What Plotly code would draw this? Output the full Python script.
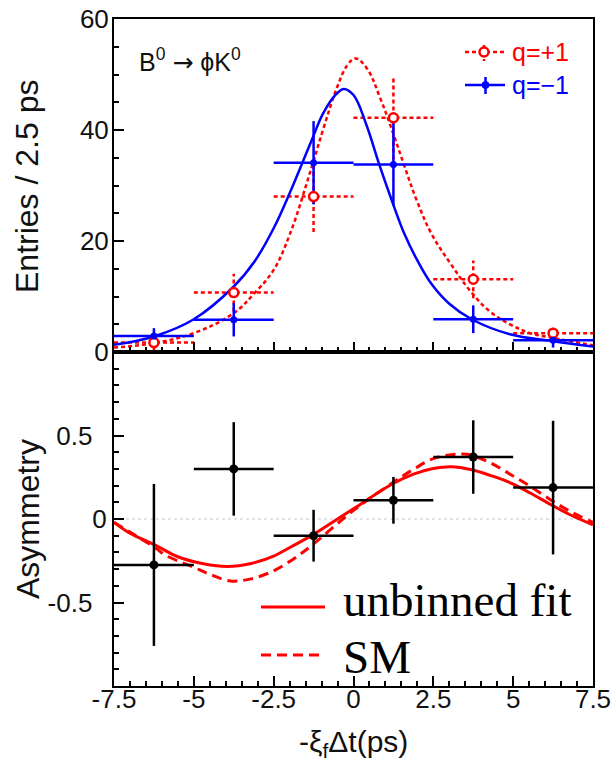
import plotly.graph_objects as go

# ---------------- data ----------------
bin_centers = [-6.25, -3.75, -1.25, 1.25, 3.75, 6.25]
bin_half_width = [1.25, 1.25, 1.25, 1.25, 1.25, 1.25]

qp_counts = [1.7, 10.7, 28.0, 42.2, 13.1, 3.4]      # q=+1 (red, open)
qp_errors = [1.4, 3.4, 6.4, 7.5, 3.4, 1.0]
qm_counts = [2.9, 5.8, 34.1, 33.8, 5.9, 2.1]        # q=-1 (blue, filled)
qm_errors = [1.4, 3.0, 7.5, 7.4, 2.5, 1.3]

qm_curve_x = [-7.5, -6.25, -5.0, -3.75, -3.1, -2.5, -2.0, -1.3, -0.95, -0.55, -0.3, 0.0,
              0.4, 0.8, 1.2, 1.6, 2.0, 2.45, 3.0, 3.7, 4.9, 6.2, 7.5]
qm_curve_y = [1.3, 2.8, 5.9, 11.8, 16.3, 22.3, 28.6, 38.3, 43.0, 46.4, 47.4, 46.3,
              41.0, 33.9, 27.3, 21.2, 16.5, 12.2, 8.7, 5.9, 3.2, 2.0, 1.0]

qp_curve_x = [-7.5, -6.25, -5.0, -3.75, -3.1, -2.5, -2.0, -1.3, -0.94, -0.52, -0.2, 0.06,
              0.42, 0.84, 1.26, 1.57, 1.98, 2.45, 3.03, 3.67, 4.27, 4.93, 5.53, 6.18, 7.5]
qp_curve_y = [0.8, 1.6, 3.4, 7.0, 10.6, 14.8, 21.1, 33.5, 40.3, 47.6, 51.6, 52.9,
              51.1, 45.7, 39.1, 33.9, 27.3, 21.2, 16.0, 10.9, 7.3, 4.9, 3.4, 2.6, 1.2]

asym_values = [-0.275, 0.30, -0.10, 0.112, 0.371, 0.188]
asym_errors = [0.485, 0.28, 0.155, 0.14, 0.22, 0.40]

fit_x = [-7.5, -7.0, -6.25, -5.5, -4.7, -3.95, -3.2, -2.5, -1.95, -1.25, -0.5, 0.2,
         1.2, 1.9, 2.5, 3.05, 3.7, 4.3, 4.95, 5.55, 6.2, 6.8, 7.5]
fit_y = [-0.02, -0.085, -0.152, -0.226, -0.268, -0.284, -0.266, -0.222, -0.166, -0.092, 0.0, 0.086,
         0.208, 0.27, 0.302, 0.313, 0.295, 0.26, 0.214, 0.154, 0.084, 0.024, -0.035]

sm_x = [-7.5, -6.9, -6.15, -5.9, -5.05, -4.45, -3.85, -3.25, -2.55, -1.9, -1.3, -0.05,
        1.2, 1.9, 2.5, 3.05, 3.4, 3.67, 4.3, 4.93, 5.55, 6.18, 6.8, 7.5]
sm_y = [-0.02, -0.09, -0.18, -0.216, -0.285, -0.335, -0.371, -0.36, -0.315, -0.242, -0.157, 0.044,
        0.214, 0.30, 0.362, 0.385, 0.389, 0.383, 0.335, 0.265, 0.194, 0.114, 0.044, -0.02]

x_range = [-7.5, 7.5]
x_ticks = [-7.5, -5, -2.5, 0, 2.5, 5, 7.5]
x_ticktext = ["-7.5", "-5", "-2.5", "0", "2.5", "5", "7.5"]
top_ticks = [0, 20, 40, 60]
bot_ticks = [-0.5, 0, 0.5]
bot_ticktext = ["-0.5\u00a0\u00a0", "0", "0.5\u00a0\u00a0"]

# ---------------- helpers ----------------
RED = "#ff0000"
BLUE = "#0000ff"
DOT = "4px,3px"
SANS = "Liberation Sans, Arial, sans-serif"
SERIF = "Liberation Serif, Times New Roman, serif"


def hsegs(xc, xh, y):
    xs, ys = [], []
    for a, h, b in zip(xc, xh, y):
        xs += [a - h, a + h, None]
        ys += [b, b, None]
    return xs, ys


def vsegs(xc, y, e):
    xs, ys = [], []
    for a, b, d in zip(xc, y, e):
        xs += [a, a, None]
        ys += [b - d, b + d, None]
    return xs, ys


fig = go.Figure()

# ---- upper panel ----
hx, hy = hsegs(bin_centers, bin_half_width, qp_counts)
vx, vy = vsegs(bin_centers, qp_counts, qp_errors)
fig.add_trace(go.Scatter(x=hx, y=hy, mode="lines", line=dict(color=RED, width=2.5, dash=DOT),
                         xaxis="x2", yaxis="y2", showlegend=False, hoverinfo="skip"))
fig.add_trace(go.Scatter(x=vx, y=vy, mode="lines", line=dict(color=RED, width=2.5, dash=DOT),
                         xaxis="x2", yaxis="y2", showlegend=False, hoverinfo="skip"))
fig.add_trace(go.Scatter(x=qp_curve_x, y=qp_curve_y, mode="lines",
                         line=dict(color=RED, width=2.5, dash=DOT, shape="spline", smoothing=1.1),
                         xaxis="x2", yaxis="y2", showlegend=False))

hx, hy = hsegs(bin_centers, bin_half_width, qm_counts)
vx, vy = vsegs(bin_centers, qm_counts, qm_errors)
fig.add_trace(go.Scatter(x=hx, y=hy, mode="lines", line=dict(color=BLUE, width=2.5),
                         xaxis="x2", yaxis="y2", showlegend=False, hoverinfo="skip"))
fig.add_trace(go.Scatter(x=vx, y=vy, mode="lines", line=dict(color=BLUE, width=2.5),
                         xaxis="x2", yaxis="y2", showlegend=False, hoverinfo="skip"))
fig.add_trace(go.Scatter(x=qm_curve_x, y=qm_curve_y, mode="lines",
                         line=dict(color=BLUE, width=2.5, shape="spline", smoothing=1.1),
                         xaxis="x2", yaxis="y2", showlegend=False))

fig.add_trace(go.Scatter(x=bin_centers, y=qp_counts, mode="markers",
                         marker=dict(symbol="circle", size=9, color="white",
                                     line=dict(color=RED, width=2.5)),
                         xaxis="x2", yaxis="y2", showlegend=False))
fig.add_trace(go.Scatter(x=bin_centers, y=qm_counts, mode="markers",
                         marker=dict(symbol="circle", size=7, color=BLUE),
                         xaxis="x2", yaxis="y2", showlegend=False))

# ---- lower panel ----
fig.add_trace(go.Scatter(x=x_range, y=[0, 0], mode="lines",
                         line=dict(color="#c8c8c8", width=1, dash="3px,3px"),
                         xaxis="x", yaxis="y", showlegend=False, hoverinfo="skip"))
fig.add_trace(go.Scatter(x=fit_x, y=fit_y, mode="lines",
                         line=dict(color=RED, width=3, shape="spline", smoothing=1.0),
                         xaxis="x", yaxis="y", showlegend=False))
fig.add_trace(go.Scatter(x=sm_x, y=sm_y, mode="lines",
                         line=dict(color=RED, width=3, dash="10px,6px", shape="spline", smoothing=1.0),
                         xaxis="x", yaxis="y", showlegend=False))
hx, hy = hsegs(bin_centers, bin_half_width, asym_values)
vx, vy = vsegs(bin_centers, asym_values, asym_errors)
fig.add_trace(go.Scatter(x=hx, y=hy, mode="lines", line=dict(color="black", width=2.5),
                         xaxis="x", yaxis="y", showlegend=False, hoverinfo="skip"))
fig.add_trace(go.Scatter(x=vx, y=vy, mode="lines", line=dict(color="black", width=2.5),
                         xaxis="x", yaxis="y", showlegend=False, hoverinfo="skip"))
fig.add_trace(go.Scatter(x=bin_centers, y=asym_values, mode="markers",
                         marker=dict(symbol="circle", size=9, color="black"),
                         xaxis="x", yaxis="y", showlegend=False))

# ---------------- layout ----------------
L, R, T, B = 114, 593, 19, 686
W, H = R - L, B - T


def px(xp):
    return (xp - L) / W


def py(yp):
    return (B - yp) / H


split = py(352)

axis_common = dict(showline=True, linecolor="black", linewidth=2, mirror=True,
                   ticks="inside", ticklen=10, tickwidth=2, tickcolor="black",
                   showgrid=False, zeroline=False, automargin=False,
                   tickfont=dict(family=SANS, size=26, color="#111111"))

fig.update_layout(
    width=612, height=765,
    margin=dict(l=L, r=612 - R, t=T, b=765 - B, autoexpand=False),
    paper_bgcolor="white", plot_bgcolor="white",
    showlegend=False,
    xaxis=dict(axis_common, range=x_range, tickvals=x_ticks, ticktext=x_ticktext,
               anchor="y", domain=[0, 1], ticklabelstandoff=-11,
               minor=dict(dtick=0.5, tick0=0, ticks="inside", ticklen=5, tickwidth=2, tickcolor="black")),
    yaxis=dict(axis_common, range=[-1, 1], tickvals=bot_ticks, ticktext=bot_ticktext,
               anchor="x", domain=[0, split], ticklabelstandoff=0,
               minor=dict(dtick=0.1, tick0=0, ticks="inside", ticklen=5, tickwidth=2, tickcolor="black")),
    xaxis2=dict(axis_common, range=x_range, tickvals=x_ticks, showticklabels=False,
                anchor="y2", matches="x",
                minor=dict(dtick=0.5, tick0=0, ticks="inside", ticklen=5, tickwidth=2, tickcolor="black")),
    yaxis2=dict(axis_common, range=[0, 60], tickvals=top_ticks,
                anchor="x2", domain=[split, 1], ticklabelstandoff=-2,
                minor=dict(dtick=5, tick0=0, ticks="inside", ticklen=5, tickwidth=2, tickcolor="black")),
)

ann = []
ann.append(dict(text="Entries / 2.5 ps", x=px(27), y=py(187), xref="paper", yref="paper",
                textangle=-90, showarrow=False, xanchor="center", yanchor="middle",
                font=dict(family=SANS, size=32, color="#111111")))
ann.append(dict(text="Asymmetry", x=px(28), y=py(519), xref="paper", yref="paper",
                textangle=-90, showarrow=False, xanchor="center", yanchor="middle",
                font=dict(family=SANS, size=32, color="#111111")))
ann.append(dict(text="-ξ<sub>f</sub>Δt(ps)", x=px(353), y=py(743), xref="paper", yref="paper",
                showarrow=False, xanchor="center", yanchor="middle",
                font=dict(family=SANS, size=30, color="#111111")))
ann.append(dict(text="B<sup>0</sup> <span style=\"font-family:DejaVu Sans\">→</span> ϕK<sup>0</sup>",
                x=px(137), y=py(60), xref="paper", yref="paper",
                showarrow=False, xanchor="left", yanchor="middle",
                font=dict(family=SANS, size=25, color="#111111")))
ann.append(dict(text="q=+1", x=px(510), y=py(52), xref="paper", yref="paper",
                showarrow=False, xanchor="left", yanchor="middle",
                font=dict(family=SANS, size=25, color=RED)))
ann.append(dict(text="q=−1", x=px(510), y=py(85), xref="paper", yref="paper",
                showarrow=False, xanchor="left", yanchor="middle",
                font=dict(family=SANS, size=25, color=BLUE)))
ann.append(dict(text="unbinned fit", x=px(341), y=py(600), xref="paper", yref="paper",
                showarrow=False, xanchor="left", yanchor="middle",
                font=dict(family=SERIF, size=47, color="black")))
ann.append(dict(text="SM", x=px(341), y=py(657), xref="paper", yref="paper",
                showarrow=False, xanchor="left", yanchor="middle",
                font=dict(family=SERIF, size=47, color="black")))

shapes = []
# legend samples (upper)
shapes.append(dict(type="line", xref="paper", yref="paper", x0=px(465), x1=px(505), y0=py(52), y1=py(52),
                   line=dict(color=RED, width=2.5, dash=DOT)))
shapes.append(dict(type="line", xref="paper", yref="paper", x0=px(484), x1=px(484), y0=py(45), y1=py(61),
                   line=dict(color=RED, width=2.5, dash=DOT)))
shapes.append(dict(type="circle", xref="paper", yref="paper", x0=px(479.5), x1=px(488.5), y0=py(47.5), y1=py(56.5),
                   fillcolor="white", line=dict(color=RED, width=2.5)))
shapes.append(dict(type="line", xref="paper", yref="paper", x0=px(465), x1=px(505), y0=py(85), y1=py(85),
                   line=dict(color=BLUE, width=2.5)))
shapes.append(dict(type="line", xref="paper", yref="paper", x0=px(485.5), x1=px(485.5), y0=py(77), y1=py(94),
                   line=dict(color=BLUE, width=2.5)))
shapes.append(dict(type="circle", xref="paper", yref="paper", x0=px(482), x1=px(489), y0=py(81.5), y1=py(88.5),
                   fillcolor=BLUE, line=dict(color=BLUE, width=1)))
# legend samples (lower)
shapes.append(dict(type="line", xref="paper", yref="paper", x0=px(261), x1=px(325), y0=py(607), y1=py(607),
                   line=dict(color=RED, width=3)))
shapes.append(dict(type="line", xref="paper", yref="paper", x0=px(261), x1=px(325), y0=py(655), y1=py(655),
                   line=dict(color=RED, width=3, dash="10px,6px")))

fig.update_layout(annotations=ann, shapes=shapes)

fig.write_html("out.html")
